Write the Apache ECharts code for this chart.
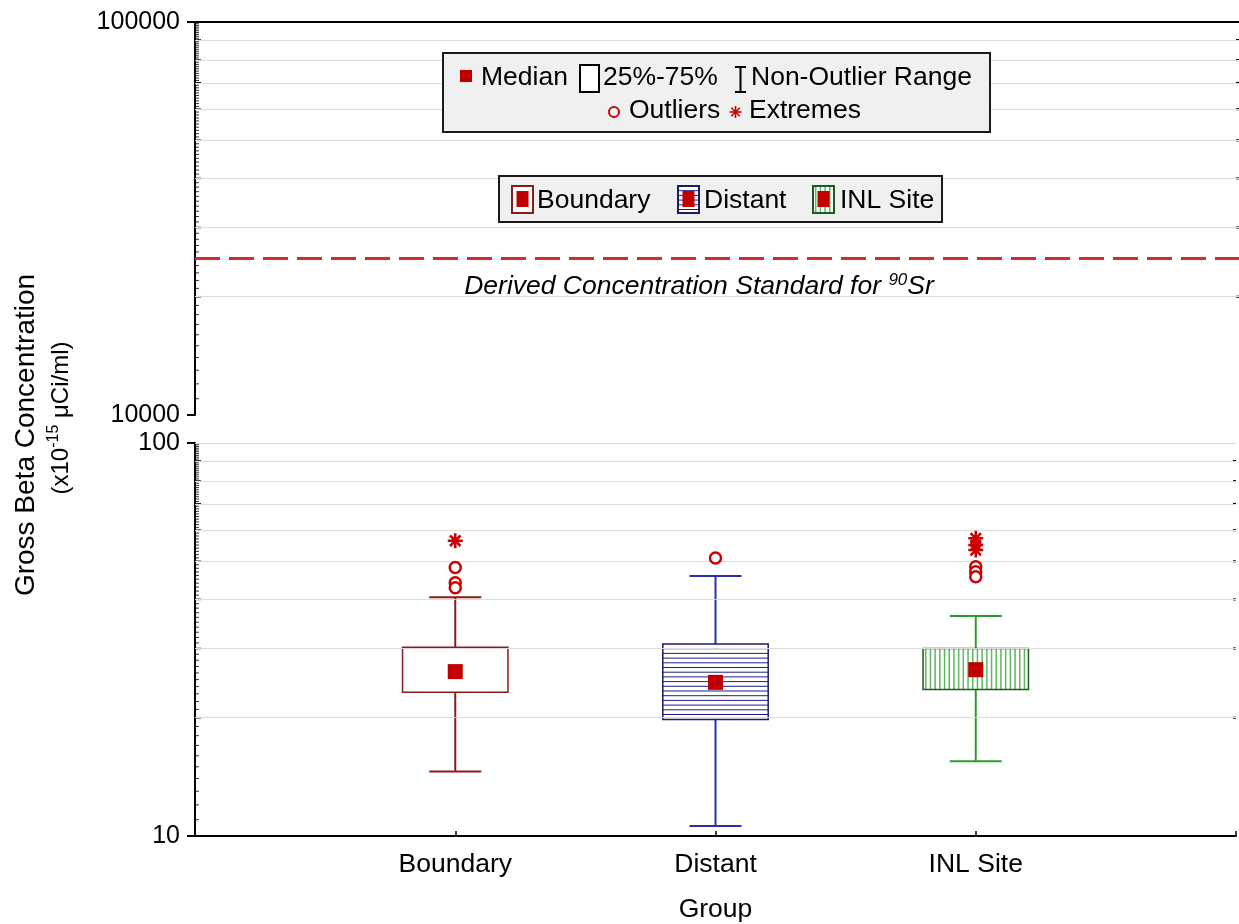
<!DOCTYPE html>
<html><head><meta charset="utf-8">
<script src="https://cdn.jsdelivr.net/npm/echarts@6/dist/echarts.min.js"></script>
<style>html,body{margin:0;padding:0;background:#fff}#c{width:1239px;height:924px}</style>
</head><body><div id="c"></div>
<script>
// ---- data ----
const categories = ['Boundary', 'Distant', 'INL Site'];
const whiskerLow  = [14.6, 10.6, 15.5];
const quartile1   = [23.2, 19.8, 23.6];
const medians     = [26.2, 24.6, 26.5];
const quartile3   = [30.2, 30.8, 30.0];
const whiskerHigh = [40.5, 45.9, 36.3];
const outliers = [[48.2, 44.1, 42.8], [51.0], [48.4, 47.0, 45.7]];
const extremes = [[56.4], [], [57.2, 55.0, 53.4]];
const dcsValue = 25000;
const topGridValues = [20000, 30000, 40000, 50000, 60000, 70000, 80000, 90000];
const bottomGridValues = [20, 30, 40, 50, 60, 70, 80, 90, 100];

// ---- styling ----
const FONT = "'Liberation Sans', Arial, sans-serif";
const boxStyles = [
  {border: '#8b1c1c', whisker: '#8b1c1c', hatch: null},
  {border: '#1a1a6e', whisker: '#2e2ea0', hatch: 'h', hatchColor: '#1e1e86'},
  {border: '#1d5a1d', whisker: '#2f9a2f', hatch: 'v', hatchColor: '#5cb85c'}
];
const axisData = [''].concat(categories, ['']);

function minorTicks(base) {
  const out = [];
  for (let k = 11; k <= 99; k++) out.push([0, k * base, k % 10 === 0 ? 1 : 0]);
  return out;
}

function hatch(x, y, w, h, type, color) {
  const els = [], step = 4.7;
  if (type === 'h') {
    for (let yy = y + step; yy < y + h - 1; yy += step)
      els.push({type: 'line', shape: {x1: x, y1: yy, x2: x + w, y2: yy}, style: {stroke: color, lineWidth: 1}});
  } else if (type === 'v') {
    for (let xx = x + 2.7; xx < x + w - 1; xx += step)
      els.push({type: 'line', shape: {x1: xx, y1: y, x2: xx, y2: y + h}, style: {stroke: color, lineWidth: 1.5}});
  }
  return els;
}

function tickRender(params, api) {
  const v = api.value(1), kind = api.value(2);
  const pL = api.coord([0, v]);
  const pR = api.coord([4, v]);
  const len = kind ? 5 : 3;
  const ch = [{type: 'line', shape: {x1: pL[0] + 1, y1: pL[1], x2: pL[0] + 1 + len, y2: pL[1]},
    style: {stroke: kind ? '#000' : '#333', lineWidth: kind ? 1.5 : 1}}];
  if (kind) ch.push({type: 'line', shape: {x1: pR[0], y1: pR[1], x2: pR[0] - 3, y2: pR[1]}, style: {stroke: '#000', lineWidth: 2}});
  return {type: 'group', children: ch};
}

function boxRender(params, api) {
  const i = params.dataIndex;
  const x = api.value(0);
  const lo = api.coord([x, api.value(1)]);
  const q1 = api.coord([x, api.value(2)]);
  const q3 = api.coord([x, api.value(4)]);
  const hi = api.coord([x, api.value(5)]);
  const band = api.coord([1, api.value(3)])[0] - api.coord([0, api.value(3)])[0];
  const bw = band * 0.405, cw = band * 0.2;
  const cx = lo[0];
  const st = boxStyles[i];
  const ws = {stroke: st.whisker, lineWidth: 2};
  const ch = [
    {type: 'line', shape: {x1: cx, y1: q3[1], x2: cx, y2: hi[1]}, style: ws},
    {type: 'line', shape: {x1: cx - cw / 2, y1: hi[1], x2: cx + cw / 2, y2: hi[1]}, style: ws},
    {type: 'line', shape: {x1: cx, y1: q1[1], x2: cx, y2: lo[1]}, style: ws},
    {type: 'line', shape: {x1: cx - cw / 2, y1: lo[1], x2: cx + cw / 2, y2: lo[1]}, style: ws}
  ];
  const left = cx - bw / 2, top = q3[1], h = q1[1] - q3[1];
  ch.push({type: 'rect', shape: {x: left, y: top, width: bw, height: h}, style: {fill: '#fff'}});
  hatch(left, top, bw, h, st.hatch, st.hatchColor).forEach(e => ch.push(e));
  ch.push({type: 'rect', shape: {x: left, y: top, width: bw, height: h}, style: {fill: 'none', stroke: st.border, lineWidth: 1.5}});
  return {type: 'group', children: ch};
}

const asteriskPath = 'path://M5 0L5 10M0 5L10 5M1.5 1.5L8.5 8.5M8.5 1.5L1.5 8.5';

function asteriskLines(cx, cy, r, color) {
  const d = r * 0.7;
  return [[0, -r, 0, r], [-r, 0, r, 0], [-d, -d, d, d], [d, -d, -d, d]].map(s => ({
    type: 'line', shape: {x1: cx + s[0], y1: cy + s[1], x2: cx + s[2], y2: cy + s[3]}, style: {stroke: color, lineWidth: 1.6}
  }));
}

// ---- legend graphics ----
const LF = 26.5;
const g = [];
g.push({type: 'rect', shape: {x: 443, y: 53, width: 547, height: 79}, style: {fill: '#f0f0f0', stroke: '#1a1a1a', lineWidth: 2}});
g.push({type: 'rect', shape: {x: 460, y: 70, width: 12, height: 12}, style: {fill: '#c00000'}});
g.push({type: 'text', x: 481, y: 78, style: {text: 'Median', fontSize: LF, fontFamily: FONT, fill: '#000', verticalAlign: 'middle'}});
g.push({type: 'rect', shape: {x: 580, y: 65, width: 19, height: 27}, style: {fill: '#fff', stroke: '#000', lineWidth: 2}});
g.push({type: 'text', x: 603, y: 78, style: {text: '25%-75%', fontSize: LF, fontFamily: FONT, fill: '#000', verticalAlign: 'middle'}});
[[735, 67, 746, 67], [740.5, 67, 740.5, 92], [735, 92, 746, 92]].forEach(s =>
  g.push({type: 'line', shape: {x1: s[0], y1: s[1], x2: s[2], y2: s[3]}, style: {stroke: '#000', lineWidth: 2}}));
g.push({type: 'text', x: 751, y: 78, style: {text: 'Non-Outlier Range', fontSize: LF, fontFamily: FONT, fill: '#000', verticalAlign: 'middle'}});
g.push({type: 'circle', shape: {cx: 614, cy: 112, r: 5}, style: {fill: '#fff', stroke: '#cc0000', lineWidth: 2}});
g.push({type: 'text', x: 629, y: 111, style: {text: 'Outliers', fontSize: LF, fontFamily: FONT, fill: '#000', verticalAlign: 'middle'}});
asteriskLines(735.5, 112, 6, '#cc0000').forEach(e => g.push(e));
g.push({type: 'text', x: 749, y: 111, style: {text: 'Extremes', fontSize: LF, fontFamily: FONT, fill: '#000', verticalAlign: 'middle'}});

g.push({type: 'rect', shape: {x: 499, y: 176, width: 443, height: 46}, style: {fill: '#f0f0f0', stroke: '#1a1a1a', lineWidth: 2}});
const iconX = [512, 678, 813], textX = [537, 704, 840];
categories.forEach((c, i) => {
  const st = boxStyles[i], x = iconX[i], y = 186, w = 21, h = 27;
  g.push({type: 'rect', shape: {x, y, width: w, height: h}, style: {fill: '#fff'}});
  hatch(x, y, w, h, st.hatch, st.hatchColor).forEach(e => g.push(e));
  g.push({type: 'rect', shape: {x, y, width: w, height: h}, style: {fill: 'none', stroke: st.border, lineWidth: 2}});
  g.push({type: 'rect', shape: {x: x + 4.5, y: y + 5, width: 12, height: 16}, style: {fill: '#c00000'}});
  g.push({type: 'text', x: textX[i], y: 201, style: {text: c, fontSize: 26.5, fontFamily: FONT, fill: '#000', verticalAlign: 'middle'}});
});

// y axis title
g.push({type: 'text', x: 26, y: 435, rotation: Math.PI / 2,
  style: {text: 'Gross Beta Concentration', fontSize: 28, fontFamily: FONT, fill: '#000', align: 'center', verticalAlign: 'middle'}});
g.push({type: 'text', x: 61, y: 418, rotation: Math.PI / 2,
  style: {text: '{a|(x10}{s|-15}{a| μCi/ml)}', align: 'center', verticalAlign: 'middle',
    rich: {a: {fontSize: 24, fontFamily: FONT, fill: '#000', color: '#000', lineHeight: 30},
           s: {fontSize: 16, fontFamily: FONT, fill: '#000', color: '#000', verticalAlign: 'top', lineHeight: 30}}}});
g.forEach(e => { e.z = 100; e.silent = true; });

const labelFmt = v => String(Math.round(v));

const option = {
  animation: false,
  backgroundColor: '#fff',
  textStyle: {fontFamily: FONT},
  grid: [
    {left: 195, right: 0, top: 22, height: 393},
    {left: 195, right: 0, top: 443, height: 393}
  ],
  xAxis: [
    {type: 'category', gridIndex: 0, data: axisData, boundaryGap: false, position: 'top',
      axisLine: {show: true, lineStyle: {color: '#000', width: 2}}, axisTick: {show: false}, axisLabel: {show: false}, splitLine: {show: false}},
    {type: 'category', gridIndex: 1, data: axisData, boundaryGap: false, position: 'bottom',
      axisLine: {show: true, lineStyle: {color: '#000', width: 2}},
      axisTick: {show: true, inside: true, length: 5, interval: 0, lineStyle: {color: '#000', width: 1.5}},
      axisLabel: {show: true, interval: 0, fontSize: 26.5, color: '#000', margin: 15, fontFamily: FONT},
      splitLine: {show: false},
      name: 'Group', nameLocation: 'middle', nameGap: 60, nameTextStyle: {fontSize: 26.5, color: '#000', fontFamily: FONT}}
  ],
  yAxis: [
    {type: 'log', logBase: 10, gridIndex: 0, min: 10000, max: 100000,
      axisLine: {show: true, lineStyle: {color: '#000', width: 2}},
      axisTick: {show: true, length: 8, lineStyle: {color: '#000', width: 2}},
      axisLabel: {fontSize: 25, color: '#000', margin: 15, formatter: labelFmt, fontFamily: FONT},
      splitLine: {show: false}},
    {type: 'log', logBase: 10, gridIndex: 1, min: 10, max: 100,
      axisLine: {show: true, lineStyle: {color: '#000', width: 2}},
      axisTick: {show: true, length: 8, lineStyle: {color: '#000', width: 2}},
      axisLabel: {fontSize: 25, color: '#000', margin: 15, formatter: labelFmt, fontFamily: FONT},
      splitLine: {show: false}}
  ],
  graphic: {elements: g},
  series: [
    {type: 'custom', name: 'ticksTop', xAxisIndex: 0, yAxisIndex: 0, renderItem: tickRender, data: minorTicks(1000),
      encode: {x: 0, y: 1}, silent: true, z: 1,
      markLine: {silent: true, symbol: 'none', animation: false,
        data: topGridValues.map(v => ({yAxis: v, lineStyle: {color: '#dcdcdc', width: 1, type: 'solid'}, label: {show: false}})).concat([
          {yAxis: dcsValue, lineStyle: {color: '#d42c2c', width: 3, type: [25, 9]},
            label: {show: true, position: 'insideMiddleBottom', distance: 13, padding: [0, 36, 0, 0],
              formatter: '{i|Derived Concentration Standard for }{s|90}{i|Sr}',
              rich: {i: {fontSize: 26.5, fontStyle: 'italic', color: '#000', fontFamily: FONT, lineHeight: 30},
                     s: {fontSize: 17, fontStyle: 'italic', color: '#000', fontFamily: FONT, verticalAlign: 'top', lineHeight: 30}}}}])}},
    {type: 'custom', name: 'ticksBottom', xAxisIndex: 1, yAxisIndex: 1, renderItem: tickRender, data: minorTicks(1),
      encode: {x: 0, y: 1}, silent: true, z: 1,
      markLine: {silent: true, symbol: 'none', animation: false,
        data: bottomGridValues.map(v => ({yAxis: v, lineStyle: {color: '#dcdcdc', width: 1, type: 'solid'}, label: {show: false}}))}},
    {type: 'custom', name: 'boxes', xAxisIndex: 1, yAxisIndex: 1, renderItem: boxRender, z: 3,
      encode: {x: 0, y: [1, 2, 3, 4, 5]},
      data: categories.map((c, i) => [c, whiskerLow[i], quartile1[i], medians[i], quartile3[i], whiskerHigh[i]])},
    {type: 'scatter', name: 'Median', xAxisIndex: 1, yAxisIndex: 1, z: 5, symbol: 'rect', symbolSize: 15,
      itemStyle: {color: '#c00000', opacity: 1},
      data: categories.map((c, i) => [c, medians[i]])},
    {type: 'scatter', name: 'Outliers', xAxisIndex: 1, yAxisIndex: 1, z: 5, symbol: 'circle', symbolSize: 11,
      itemStyle: {color: '#fff', borderColor: '#cc0000', borderWidth: 2.5, opacity: 1},
      data: [].concat(...categories.map((c, i) => outliers[i].map(v => [c, v])))},
    {type: 'scatter', name: 'Extremes', xAxisIndex: 1, yAxisIndex: 1, z: 6, symbol: asteriskPath, symbolSize: 15,
      itemStyle: {color: 'transparent', borderColor: '#cc0000', borderWidth: 2.5, opacity: 1},
      data: [].concat(...categories.map((c, i) => extremes[i].map(v => [c, v])))}
  ]
};

const chart = echarts.init(document.getElementById('c'), null, {renderer: 'canvas'});
chart.setOption(option);
</script>
</body></html>
